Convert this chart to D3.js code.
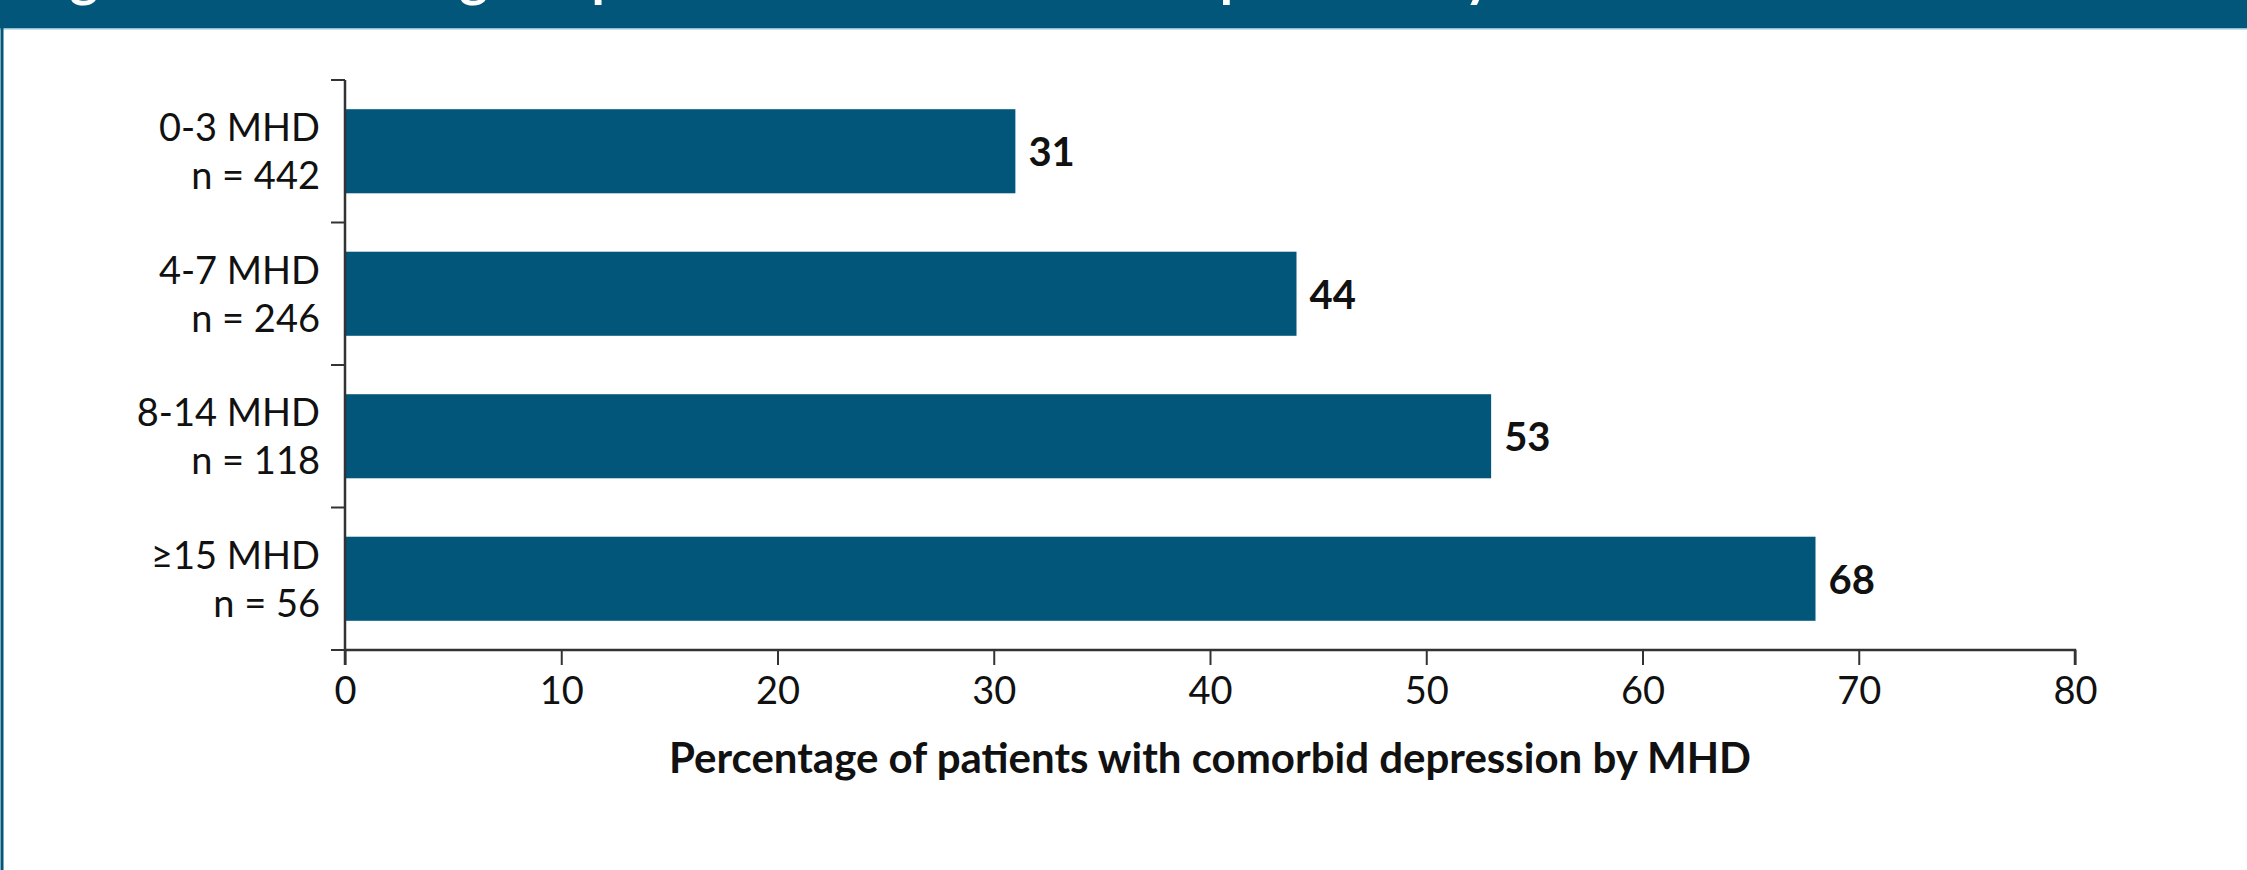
<!DOCTYPE html>
<html>
<head>
<meta charset="utf-8">
<script src="https://cdn.jsdelivr.net/npm/d3@7"></script>
<style>
  html, body { margin: 0; padding: 0; background: #ffffff; }
  svg { display: block; }
</style>
</head>
<body>
<svg id="chart" width="2247" height="870"></svg>
<script>
// Comorbid depression by monthly headache days (MHD)
const categories = ["0-3 MHD", "4-7 MHD", "8-14 MHD", "\u226515 MHD"];
const sampleSizes = ["n = 442", "n = 246", "n = 118", "n = 56"];
const percentages = [31, 44, 53, 68];
const xTicks = [0, 10, 20, 30, 40, 50, 60, 70, 80];
const figureTitle = "Figure 1. Percentage of patients with comorbid depression by MHD";
const axisTitle = "Percentage of patients with comorbid depression by MHD";

const W = 2247, H = 870;
const brand = "#02567a";
const ink = "#111111";
const axisInk = "#333333";
const font = "Lato, 'Open Sans', sans-serif";

const svg = d3.select("#chart");

// Page frame: header band, its light rule and the left border
svg.append("rect").attr("x", 0).attr("y", 0).attr("width", W).attr("height", 28).attr("fill", brand);
svg.append("rect").attr("x", 0).attr("y", 28).attr("width", W).attr("height", 1.5).attr("fill", "#93bfd6");
svg.append("rect").attr("x", 0.5).attr("y", 0).attr("width", 3).attr("height", H).attr("fill", brand);

// Figure title sits in the header, mostly above the top edge
const titleText = svg.append("text")
  .attr("x", 0).attr("y", -4)
  .attr("font-family", font).attr("font-weight", 700).attr("font-size", 40)
  .attr("fill", "#ffffff")
  .text(figureTitle);
{
  const node = titleText.node();
  const g2 = node.getExtentOfChar(2);
  const p49 = node.getExtentOfChar(49);
  const span = (p49.x) - (g2.x + g2.width / 2);
  const k = (1220 - 84) / span;
  titleText.attr("font-size", 40 * k);
  const g2b = node.getExtentOfChar(2);
  titleText.attr("x", 84 - (g2b.x + g2b.width / 2));
}

// Plot area
const x0 = 345, x1 = 2075, yTop = 80, yBot = 650;

const x = d3.scaleLinear().domain([0, 80]).range([x0, x1]);
const y = d3.scaleBand().domain(categories).range([yTop, yBot]).paddingInner(0.41).paddingOuter(0.205);
const step = y.step();

// Bars
svg.append("g").selectAll("rect")
  .data(categories)
  .join("rect")
  .attr("x", x(0))
  .attr("y", d => y(d))
  .attr("width", (d, i) => x(percentages[i]) - x(0))
  .attr("height", y.bandwidth())
  .attr("fill", brand);

// Value labels
svg.append("g").selectAll("text")
  .data(categories)
  .join("text")
  .attr("x", (d, i) => x(percentages[i]) + 13)
  .attr("y", d => y(d) + y.bandwidth() / 2 + 15)
  .attr("font-family", font).attr("font-weight", 700).attr("font-size", 40)
  .attr("fill", ink)
  .text((d, i) => percentages[i]);

// X axis
const xAxis = d3.axisBottom(x).tickValues(xTicks).tickSize(15).tickPadding(12).tickFormat(d3.format("d"));
const gx = svg.append("g").attr("transform", `translate(0,${yBot})`).call(xAxis);
gx.select(".domain").attr("stroke", axisInk).attr("stroke-width", 2.5).attr("d", `M${x0},0H${x1}V15`);
gx.selectAll(".tick line").attr("stroke", axisInk).attr("stroke-width", 2);
gx.selectAll(".tick text")
  .attr("font-family", font).attr("font-weight", 400).attr("font-size", 38)
  .attr("fill", ink).attr("dy", "0.71em");

// Y axis: ticks on the band boundaries, labels in two lines per band
const bounds = d3.range(categories.length + 1).map(i => yTop + i * step);
const gy = svg.append("g");
gy.append("line").attr("x1", x0).attr("x2", x0).attr("y1", yTop).attr("y2", yBot + 15)
  .attr("stroke", axisInk).attr("stroke-width", 2.5);
gy.selectAll("line.tick")
  .data(bounds)
  .join("line").attr("class", "tick")
  .attr("x1", x0 - 14).attr("x2", x0)
  .attr("y1", d => d).attr("y2", d => d)
  .attr("stroke", axisInk).attr("stroke-width", 2);

const labels = gy.selectAll("text")
  .data(categories)
  .join("text")
  .attr("text-anchor", "end")
  .attr("font-family", font).attr("font-weight", 400).attr("font-size", 38)
  .attr("fill", ink);
labels.append("tspan")
  .attr("x", x0 - 25)
  .attr("y", d => y(d) + y.bandwidth() / 2 - 10)
  .text(d => d);
labels.append("tspan")
  .attr("x", x0 - 25)
  .attr("y", d => y(d) + y.bandwidth() / 2 + 38)
  .text((d, i) => sampleSizes[i]);

// Axis title
svg.append("text")
  .attr("x", (x0 + x1) / 2)
  .attr("y", 773)
  .attr("text-anchor", "middle")
  .attr("font-family", font).attr("font-weight", 700).attr("font-size", 42)
  .attr("fill", ink)
  .text(axisTitle);
</script>
</body>
</html>
